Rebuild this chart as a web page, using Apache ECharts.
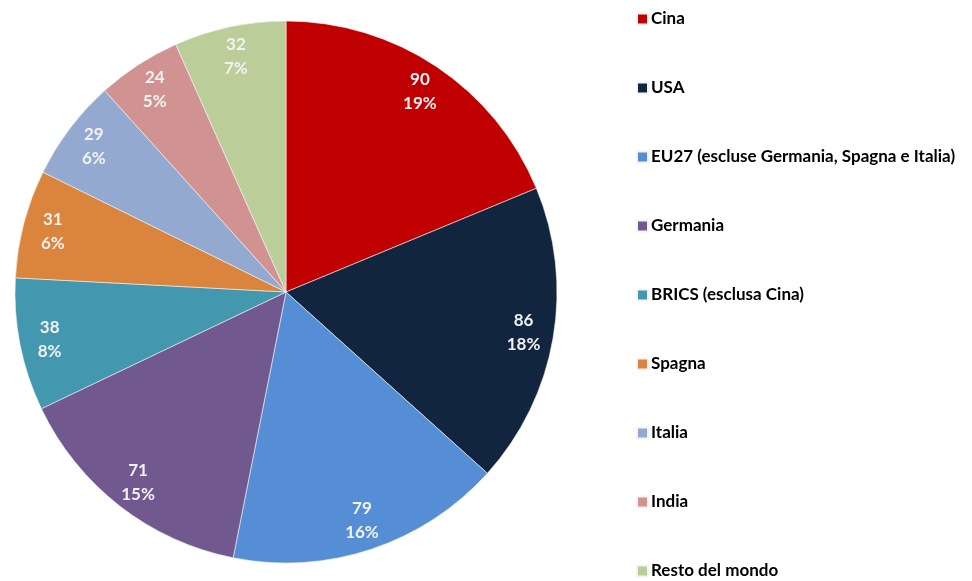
<!DOCTYPE html>
<html>
<head>
<meta charset="utf-8">
<script src="https://cdn.jsdelivr.net/npm/echarts@6/dist/echarts.min.js"></script>
<style>
  html, body { margin: 0; padding: 0; background: #fff; }
  #chart { width: 972px; height: 581px; }
</style>
</head>
<body>
<div id="chart"></div>
<script>
var paesi = ['Cina', 'USA', 'EU27 (escluse Germania, Spagna e Italia)', 'Germania',
  'BRICS (esclusa Cina)', 'Spagna', 'Italia', 'India', 'Resto del mondo'];
var valori = [90, 86, 79, 71, 38, 31, 29, 24, 32];
var colori = ['#C00000', '#11253F', '#558ED5', '#71588F', '#4397AE',
  '#DB843D', '#94A9D0', '#D19391', '#BBCD98'];

var myChart = echarts.init(document.getElementById('chart'));

var dati = [];
for (var i in paesi) {
  dati.push({ name: paesi[i], value: valori[i], itemStyle: { color: colori[i] } });
}

// the labels sit near the rim, so they go on a transparent ring
var anello = [];
for (var j in paesi) {
  anello.push({ name: paesi[j], value: valori[j], itemStyle: { color: 'rgba(0,0,0,0)' } });
}

var option = {
  animation: false,
  legend: {
    orient: 'vertical',
    left: 636,
    top: 10,
    height: 571,
    padding: 0,
    itemWidth: 11,
    itemHeight: 11,
    itemGap: 51,
    icon: 'rect',
    data: paesi,
    textStyle: {
      fontFamily: 'Lato',
      fontWeight: 'bold',
      fontSize: 17,
      lineHeight: 18,
      padding: [0, 0, 0, -2],
      color: '#000'
    }
  },
  series: [{
    name: 'Paesi',
    type: 'pie',
    center: [286, 292],
    radius: [0, 271],
    startAngle: 90,
    clockwise: true,
    label: { show: false },
    labelLine: { show: false },
    itemStyle: { borderColor: '#f4f4f4', borderWidth: 0.6 },
    emphasis: { disabled: true },
    data: dati
  }, {
    name: 'etichette',
    type: 'pie',
    center: [286, 292],
    radius: [204, 272],
    startAngle: 90,
    clockwise: true,
    silent: true,
    legendHoverLink: false,
    label: {
      show: true,
      position: 'inside',
      formatter: function (p) { return p.value + '\n' + Math.round(p.percent) + '%'; },
      fontFamily: 'Lato',
      fontWeight: 'bold',
      fontSize: 17,
      lineHeight: 24,
      color: '#F2F2F2'
    },
    labelLine: { show: false },
    emphasis: { disabled: true },
    data: anello
  }]
};

myChart.setOption(option);
</script>
</body>
</html>
